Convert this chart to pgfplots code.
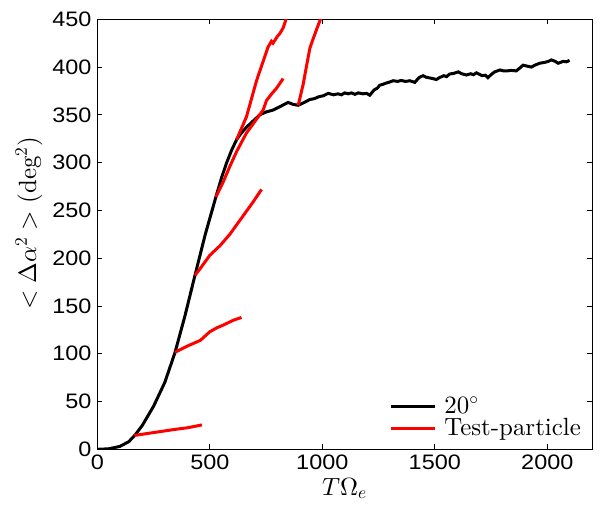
\documentclass[border=0pt]{standalone}
\usepackage{fontspec}
\setmainfont{lmroman10}[Extension=.otf, UprightFont=*-regular, ItalicFont=*-italic, BoldFont=*-bold, BoldItalicFont=*-bolditalic]
\usepackage{pgfplots}
\pgfplotsset{compat=1.18}
\DeclareFontShape{OML}{cmm}{m}{it}{<->cmmi10}{}
\DeclareFontShape{OMS}{cmsy}{m}{n}{<->cmsy10}{}
\DeclareFontShape{OT1}{cmr}{m}{n}{<->cmr10}{}
\newfontfamily\helv[FakeStretch=1.12]{Liberation Sans}
\definecolor{mred}{RGB}{255,0,0}
\begin{document}
\begin{tikzpicture}
\path[use as bounding box] (-97.3bp,-57.7bp) rectangle (503.7bp,449.3bp);
\begin{axis}[
  scale only axis,
  width=495bp, height=430bp,
  xmin=0, xmax=2200, ymin=0, ymax=450,
  xtick={0,500,1000,1500,2000},
  ytick={0,50,100,150,200,250,300,350,400,450},
  tick align=inside,
  major tick length=5bp,
  axis line style={line width=0.8bp},
  every tick/.style={black, line width=0.8bp},
  /pgf/number format/assume math mode=true,
  /pgf/number format/1000 sep={},
  ticklabel style={font=\helv\fontsize{21}{21}\selectfont},
  xticklabel style={inner sep=0pt, anchor=north, yshift=-5.5bp},
  yticklabel style={inner sep=0pt, anchor=east, xshift=-5.6bp},
  xlabel={$T\Omega_e$},
  ylabel={$<\Delta\alpha^2>$ (deg$^2$)},
  label style={font=\fontsize{25}{25}\selectfont},
  xlabel style={at={(axis description cs:0.4994,-0.1063)}, anchor=base, inner sep=0pt},
  ylabel style={at={(axis description cs:-0.1238,0.525)}, anchor=base, inner sep=0pt},
  legend cell align=left,
  legend style={draw=none, fill=none, inner sep=0pt, outer sep=0pt,
    at={(axis description cs:0.977,0.019)}, anchor=south east,
    font=\fontsize{25}{25}\selectfont, row sep=0pt,
    nodes={inner sep=0pt, outer sep=0pt, text height=16bp, text depth=6bp},
    /tikz/every odd column/.append style={column sep=8bp}},
  legend image code/.code={\draw[#1] (0bp,2bp) -- (44bp,2bp);},
  clip=true,
]
\addplot[black, line width=3bp] coordinates {
(0,0) (50,0.5) (100,3) (140,8) (168,15) (200,25) (250,45) (300,70) (345,101)
(390,140) (434,182) (480,225) (527,264) (552,284) (575,300) (597,313) (619,324)
(640,331) (663,337) (690,343) (722,350) (750,353) (781,355) (815,359) (848,363)
(870,361) (893,360) (920,363) (944,366) (965,367) (985,369) (1005,370) (1026,372.5)
(1050,371) (1070,372) (1085,371) (1100,373) (1115,372) (1130,373) (1145,371.5)
(1160,373) (1180,372) (1197,372.5) (1211,370.5) (1230,376) (1245,378) (1255,381)
(1270,382) (1280,383) (1295,384) (1315,385.7) (1335,385) (1350,386) (1370,385)
(1389,385.7) (1411,384) (1430,389) (1448,391) (1460,389.5) (1470,389) (1490,388)
(1507,387) (1521,389) (1540,391) (1552,390) (1566,392.7) (1585,393.5) (1604,395)
(1620,393) (1640,391.7) (1660,393) (1672,392) (1685,394) (1710,391) (1725,391.5)
(1736,389) (1750,392) (1766,395) (1790,397) (1805,396) (1820,396) (1840,396.5)
(1862,396) (1878,399) (1892,402) (1910,401) (1929,400) (1945,402) (1966,404)
(1990,405) (2005,406) (2018,407.5) (2035,406) (2048,404) (2060,405) (2070,406)
(2085,405.5) (2099,407)
};
\addlegendentry{$20^\circ$}
\addplot[mred, line width=3bp] coordinates {
(165,14.5) (250,17.5) (350,21) (400,22.5) (465,25.5)
};
\addlegendentry{Test-particle}
\addplot[mred, line width=3bp, forget plot] coordinates {
(345,101.5) (400,108) (458,114) (500,123) (530,127) (560,130) (604,135) (641,138)
};
\addplot[mred, line width=3bp, forget plot] coordinates {
(434,182) (457,189) (500,203) (545,213) (589,225) (641,242) (693,259) (730,272)
};
\addplot[mred, line width=3bp, forget plot] coordinates {
(527,264) (560,280) (589,296) (620,312) (663,331) (700,343) (737,355) (752,365)
(775,372) (797,378) (826,388)
};
\addplot[mred, line width=3bp, forget plot] coordinates {
(619,324) (663,348) (708,386) (740,408) (759,421) (774,427) (781,425) (800,432)
(811,435) (826,441) (840,451)
};
\addplot[mred, line width=3bp, forget plot] coordinates {
(893,360) (915,382) (929,400) (945,420) (960,430) (974,439) (995,452)
};
\end{axis}
\end{tikzpicture}
\end{document}
